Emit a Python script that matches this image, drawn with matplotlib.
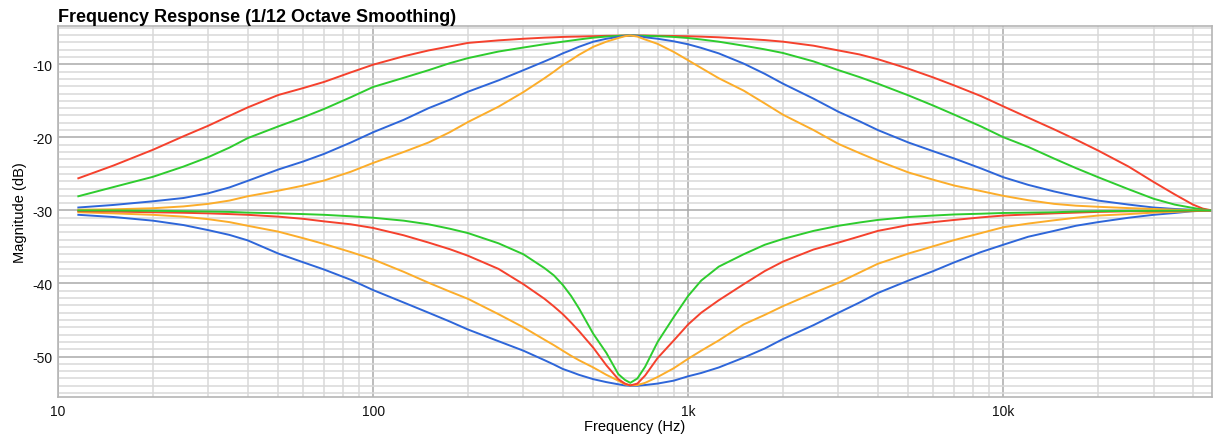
import numpy as np
import matplotlib
matplotlib.use("Agg")
import matplotlib.pyplot as plt
from matplotlib.ticker import FixedLocator

plt.rcParams['font.family'] = ['Liberation Sans', 'DejaVu Sans']
plt.rcParams['axes.unicode_minus'] = False

# frequency points (Hz) the curves are sampled at
freqs = [11.6, 15, 20, 25, 30, 35, 40, 50, 60, 70,
         85, 100, 125, 150, 175, 200, 250, 300, 350, 375,
         400, 425, 450, 500, 550, 600, 630, 655, 690, 730,
         800, 900, 1000, 1100, 1250, 1500, 1750, 2000, 2500, 3000,
         3500, 4000, 5000, 6000, 7000, 8500, 10000, 12000, 14500, 17000,
         20000, 25000, 30000, 35000, 40000, 43000, 46000]

# boost curves (dB)
boost_red = [-25.6, -23.85, -21.7, -19.85, -18.4, -17.05, -15.9, -14.2, -13.25, -12.4,
             -11.1, -10.05, -8.9, -8.1, -7.55, -7.07, -6.72, -6.5, -6.35, -6.3,
             -6.25, -6.22, -6.2, -6.15, -6.1, -6.08, -6.05, -6.05, -6.05, -6.06,
             -6.1, -6.12, -6.16, -6.21, -6.3, -6.5, -6.68, -6.9, -7.45, -8.1,
             -8.65, -9.3, -10.6, -11.8, -12.9, -14.35, -15.75, -17.3, -18.9, -20.3,
             -21.8, -24.0, -26.1, -27.8, -29.2, -29.75, -30.0]
boost_green = [-28.06, -26.8, -25.4, -24.0, -22.7, -21.4, -20.1, -18.5, -17.25, -16.1,
               -14.5, -13.1, -11.85, -10.8, -9.85, -9.15, -8.25, -7.7, -7.25, -7.07,
               -6.9, -6.75, -6.6, -6.35, -6.2, -6.1, -6.07, -6.05, -6.07, -6.1,
               -6.15, -6.25, -6.4, -6.6, -6.9, -7.45, -7.95, -8.45, -9.6, -10.8,
               -11.75, -12.65, -14.25, -15.65, -16.9, -18.5, -19.97, -21.3, -22.9, -24.2,
               -25.45, -27.1, -28.4, -29.2, -29.66, -29.88, -30.0]
boost_blue = [-29.6, -29.25, -28.75, -28.3, -27.65, -26.85, -25.95, -24.4, -23.3, -22.25,
              -20.7, -19.3, -17.6, -16.0, -14.85, -13.75, -12.2, -10.8, -9.6, -9.05,
              -8.5, -8.05, -7.6, -6.9, -6.5, -6.25, -6.1, -6.05, -6.1, -6.3,
              -6.5, -6.85, -7.26, -7.75, -8.5, -9.9, -11.3, -12.65, -14.7, -16.5,
              -17.8, -19.0, -20.7, -21.9, -22.9, -24.25, -25.45, -26.5, -27.4, -28.05,
              -28.65, -29.2, -29.6, -29.8, -29.92, -29.97, -30.0]
boost_orange = [-29.9, -29.85, -29.7, -29.45, -29.1, -28.65, -28.06, -27.3, -26.6, -25.9,
                -24.7, -23.5, -22.0, -20.7, -19.3, -17.9, -15.8, -13.8, -11.9, -11.0,
                -10.1, -9.4, -8.7, -7.6, -6.9, -6.4, -6.15, -6.05, -6.2, -6.6,
                -7.2, -8.3, -9.45, -10.5, -11.9, -13.6, -15.35, -16.9, -19.0, -20.9,
                -22.15, -23.2, -24.8, -25.8, -26.6, -27.35, -28.0, -28.6, -29.1, -29.35,
                -29.5, -29.68, -29.8, -29.9, -29.95, -29.98, -30.0]

# cut curves (dB)
cut_green = [-30.0, -30.0, -30.05, -30.1, -30.15, -30.2, -30.3, -30.4, -30.5, -30.6,
             -30.8, -31.0, -31.4, -31.9, -32.5, -33.1, -34.5, -36.0, -37.9, -38.9,
             -40.2, -41.7, -43.4, -46.9, -49.5, -52.4, -53.2, -53.6, -53.0, -51.4,
             -48.0, -44.6, -41.7, -39.6, -37.7, -36.0, -34.7, -33.9, -32.8, -32.1,
             -31.65, -31.3, -30.9, -30.7, -30.55, -30.45, -30.35, -30.3, -30.25, -30.15,
             -30.1, -30.07, -30.05, -30.03, -30.0, -30.0, -30.0]
cut_red = [-30.1, -30.15, -30.25, -30.32, -30.4, -30.5, -30.6, -30.85, -31.15, -31.5,
           -31.9, -32.4, -33.4, -34.4, -35.3, -36.2, -38.0, -40.1, -42.1, -43.15,
           -44.2, -45.35, -46.5, -48.8, -51.2, -53.1, -53.7, -53.95, -53.7, -52.6,
           -50.2, -47.8, -45.6, -44.0, -42.3, -40.1, -38.3, -37.0, -35.35, -34.4,
           -33.55, -32.8, -32.0, -31.6, -31.3, -30.95, -30.7, -30.55, -30.4, -30.3,
           -30.2, -30.12, -30.1, -30.07, -30.05, -30.02, -30.0]
cut_orange = [-30.25, -30.4, -30.6, -30.85, -31.2, -31.6, -32.1, -32.9, -33.8, -34.6,
              -35.7, -36.7, -38.4, -39.9, -41.1, -42.1, -44.2, -46.0, -47.7, -48.45,
              -49.2, -49.9, -50.5, -51.5, -52.5, -53.3, -53.8, -53.95, -53.9, -53.6,
              -52.8, -51.6, -50.3, -49.2, -47.8, -45.6, -44.3, -43.1, -41.3, -39.9,
              -38.5, -37.3, -35.9, -34.9, -34.05, -33.1, -32.3, -31.8, -31.35, -31.0,
              -30.7, -30.5, -30.3, -30.2, -30.1, -30.05, -30.0]
cut_blue = [-30.6, -30.9, -31.4, -32.0, -32.7, -33.35, -34.1, -35.9, -37.1, -38.1,
            -39.5, -40.9, -42.6, -44.0, -45.2, -46.3, -47.9, -49.2, -50.5, -51.1,
            -51.7, -52.1, -52.5, -53.1, -53.5, -53.8, -53.95, -54.0, -54.0, -53.9,
            -53.7, -53.3, -52.7, -52.25, -51.5, -50.15, -48.9, -47.6, -45.7, -44.0,
            -42.6, -41.3, -39.6, -38.3, -37.1, -35.7, -34.7, -33.6, -32.8, -32.1,
            -31.6, -31.0, -30.6, -30.35, -30.1, -30.05, -30.0]

x_ticks = [10, 100, 1000, 10000]
x_labels = ['10', '100', '1k', '10k']
y_ticks = [-10, -20, -30, -40, -50]

RED = '#f5412d'
GREEN = '#2ecc2e'
BLUE = '#2e66d9'
ORANGE = '#fcad2a'

fig = plt.figure(figsize=(12.14, 4.35), dpi=100)
ax = fig.add_axes([0.0478, 0.0857, 0.9506, 0.8523])

lw = 1.4
for ys, c in [(boost_red, RED), (boost_green, GREEN), (boost_blue, BLUE), (boost_orange, ORANGE),
              (cut_blue, BLUE), (cut_orange, ORANGE), (cut_red, RED), (cut_green, GREEN)]:
    ax.plot(freqs, ys, color=c, lw=lw, solid_joinstyle='round')

ax.set_xscale('log')
ax.set_xlim(10, 46000)
ax.set_ylim(-55.5, -4.75)

minor_x = [m * d for d in [10, 100, 1000, 10000] for m in range(2, 10) if m * d < 46000]
ax.xaxis.set_major_locator(FixedLocator(x_ticks))
ax.xaxis.set_minor_locator(FixedLocator(minor_x))
ax.set_xticklabels(x_labels)
ax.set_yticks(y_ticks)
ax.set_yticklabels([str(v) for v in y_ticks])
ax.set_yticks([v for v in range(-55, -4) if v % 10 != 0], minor=True)

ax.grid(which='minor', color='#d9d9d9', lw=1.1)
ax.grid(which='major', color='#a9a9a9', lw=1.1)
ax.set_axisbelow(True)
ax.tick_params(which='both', length=0, labelsize=10, colors='#111111')
ax.tick_params(axis='x', pad=5)
ax.tick_params(axis='y', pad=4)
for s in ax.spines.values():
    s.set_color('#b5b5b5')
    s.set_linewidth(1.2)

ax.set_xlabel('Frequency (Hz)', fontsize=10.5, labelpad=1)
ax.set_ylabel('Magnitude (dB)', fontsize=10.5, labelpad=4)
fig.text(0.0478, 0.949, 'Frequency Response (1/12 Octave Smoothing)',
         fontsize=13, fontweight='bold', ha='left', va='baseline')

fig.savefig('out.png', dpi=100)
